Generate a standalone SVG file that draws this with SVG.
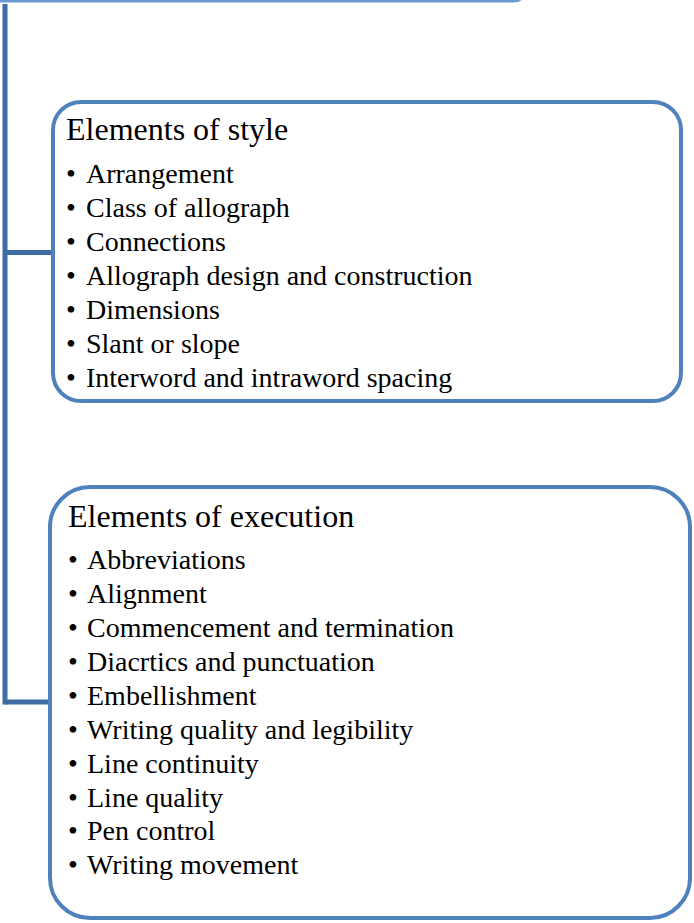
<svg xmlns="http://www.w3.org/2000/svg" width="694" height="923" viewBox="0 0 694 923">
  <style>
    .box { fill: #ffffff; stroke: #4F81BD; stroke-width: 4; }
    .link { fill: none; stroke: #3E6CA3; stroke-width: 5; }
    .title { font-family: "Liberation Serif", "Times New Roman", serif; font-size: 32px; fill: #000000; }
    .item { font-family: "Liberation Serif", "Times New Roman", serif; font-size: 28px; fill: #000000; }
  </style>
  <rect width="694" height="923" fill="#ffffff"/>

  <!-- parent node, only its lower edge is visible -->
  <g id="parent">
    <rect class="box" x="-20" y="-60" width="546" height="61" rx="12" style="stroke:#6A98D2;stroke-width:3"/>
  </g>

  <!-- connectors -->
  <g id="connectors">
    <path class="link" d="M5,4 V704.5"/>
    <path class="link" d="M5,252.5 H52"/>
    <path class="link" d="M5,702 H49"/>
  </g>

  <g id="style-node">
    <rect class="box" x="53" y="102" width="628" height="299" rx="28"/>
    <text class="title" x="66" y="140">Elements of style</text>
    <g class="item">
      <text x="66" y="183">•<tspan x="86">Arrangement</tspan></text>
      <text x="66" y="217">•<tspan x="86">Class of allograph</tspan></text>
      <text x="66" y="251">•<tspan x="86">Connections</tspan></text>
      <text x="66" y="285">•<tspan x="86">Allograph design and construction</tspan></text>
      <text x="66" y="319">•<tspan x="86">Dimensions</tspan></text>
      <text x="66" y="353">•<tspan x="86">Slant or slope</tspan></text>
      <text x="66" y="387">•<tspan x="86">Interword and intraword spacing</tspan></text>
    </g>
  </g>

  <g id="execution-node">
    <rect class="box" x="50" y="487" width="640" height="431" rx="40"/>
    <text class="title" x="68" y="527">Elements of execution</text>
    <g class="item">
      <text x="68" y="569">•<tspan x="87">Abbreviations</tspan></text>
      <text x="68" y="603">•<tspan x="87">Alignment</tspan></text>
      <text x="68" y="637">•<tspan x="87">Commencement and termination</tspan></text>
      <text x="68" y="671">•<tspan x="87">Diacrtics and punctuation</tspan></text>
      <text x="68" y="705">•<tspan x="87">Embellishment</tspan></text>
      <text x="68" y="739">•<tspan x="87">Writing quality and legibility</tspan></text>
      <text x="68" y="773">•<tspan x="87">Line continuity</tspan></text>
      <text x="68" y="807">•<tspan x="87">Line quality</tspan></text>
      <text x="68" y="840">•<tspan x="87">Pen control</tspan></text>
      <text x="68" y="874">•<tspan x="87">Writing movement</tspan></text>
    </g>
  </g>
</svg>
